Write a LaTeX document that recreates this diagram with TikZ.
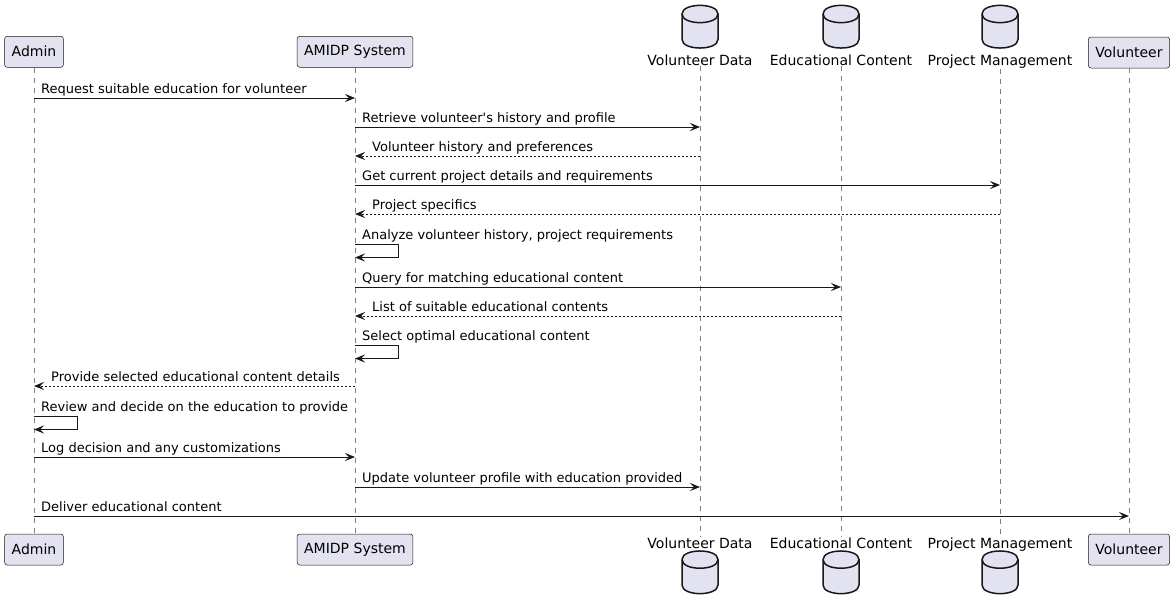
\documentclass[tikz,border=0pt]{standalone}
\usepackage{fontspec}
\setmainfont{DejaVu Sans}
\usepackage{tikz}
\usetikzlibrary{arrows.meta}
\definecolor{partfill}{HTML}{E2E2F0}
\definecolor{partline}{HTML}{181818}
\tikzset{every picture/.append style={x=1pt, y=-1pt}}
\tikzset{
    participant/.style={draw=partline, fill=partfill, rounded corners=2.5pt,
    	line width=0.5pt, inner xsep=7pt, inner ysep=0pt, minimum height=31pt,
    	font=\fontsize{14}{16}\selectfont},
    dblabel/.style={inner sep=0pt, anchor=base, font=\fontsize{14}{16}\selectfont},
    msglabel/.style={inner sep=0pt, anchor=base west, font=\fontsize{13}{15}\selectfont},
    lifeline/.style={draw=partline!55, line width=0.5pt, dash pattern=on 5pt off 5pt},
    msg/.style={draw=partline, line width=1pt,
    	-{Stealth[length=10pt, width=8pt, inset=4pt]}},
    ret/.style={msg, dash pattern=on 2pt off 2pt}
}
% database symbol: #1 = x, #2 = y of the top ellipse centre
\newcommand{\dbicon}[2]{%
	\filldraw[draw=partline, fill=partfill, line width=1.5pt]
		(#1-18,#2) .. controls (#1-18,#2-11.5) and (#1+18,#2-11.5) .. (#1+18,#2)
		-- (#1+18,#2+25.4) .. controls (#1+18,#2+36.9) and (#1-18,#2+36.9) .. (#1-18,#2+25.4) -- cycle;
	\draw[partline, line width=1.5pt]
		(#1-18,#2) .. controls (#1-18,#2+11.5) and (#1+18,#2+11.5) .. (#1+18,#2);
}

\begin{document}
\begin{tikzpicture}
	\useasboundingbox (0,0) rectangle (1173,611);
	\node (admin) [participant] at (34, 51.75) {Admin};
	\node (amidp) [participant] at (355, 51.75) {AMIDP System};
	\node (vdata) [dblabel] at (700, 65.5) {Volunteer Data};
	\node (educ) [dblabel] at (841, 65.5) {Educational Content};
	\node (projm) [dblabel] at (1000, 65.5) {Project Management};
	\node (volun) [participant] at (1129, 52.5) {Volunteer};
	
	\node (admin2) [participant] at (34, 549.5) {Admin};
	\node (amidp2) [participant] at (355, 549.5) {AMIDP System};
	\node (vdata2) [dblabel] at (700, 548) {Volunteer Data};
	\node (educ2) [dblabel] at (841, 548) {Educational Content};
	\node (projm2) [dblabel] at (1000, 548) {Project Management};
	\node (volun2) [participant] at (1129, 549.5) {Volunteer};
	
	\dbicon{700}{14} \dbicon{841}{14} \dbicon{1000}{14}
	\dbicon{700}{559.6} \dbicon{841}{559.6} \dbicon{1000}{559.6}
	
	\draw[lifeline] (admin) -- (admin2); \draw[lifeline] (amidp) -- (amidp2);
	\draw[lifeline] (vdata) -- (vdata2); \draw[lifeline] (educ) -- (educ2);
	\draw[lifeline] (projm) -- (projm2); \draw[lifeline] (volun) -- (volun2);
	
	\draw[msg] (admin |- 0,98) -- (amidp |- 0,98);
	\node (t1) [msglabel] at (41, 93) {Request suitable education for volunteer};
	\draw[msg] (amidp |- 0,127) -- (vdata |- 0,127);
	\node (t2) [msglabel] at (362, 122) {Retrieve volunteer\textquotesingle s history and profile};
	\draw[ret] (vdata |- 0,156) -- (amidp |- 0,156);
	\node (t3) [msglabel] at (372, 151) {Volunteer history and preferences};
	\draw[msg] (amidp |- 0,185) -- (projm |- 0,185);
	\node (t4) [msglabel] at (362, 180) {Get current project details and requirements};
	\draw[ret] (projm |- 0,214) -- (amidp |- 0,214);
	\node (t5) [msglabel] at (372, 209) {Project specifics};
	\draw[msg] (amidp |- 0,244) -- ++(43,0) -- ++(0,13.5) -- (amidp |- 0,257.5);
	\node (t6) [msglabel] at (362, 239) {Analyze volunteer history, project requirements};
	\draw[msg] (amidp |- 0,287) -- (educ |- 0,287);
	\node (t7) [msglabel] at (362, 282) {Query for matching educational content};
	\draw[ret] (educ |- 0,316) -- (amidp |- 0,316);
	\node (t8) [msglabel] at (372, 311) {List of suitable educational contents};
	\draw[msg] (amidp |- 0,345) -- ++(43,0) -- ++(0,13.5) -- (amidp |- 0,358.5);
	\node (t9) [msglabel] at (362, 340) {Select optimal educational content};
	\draw[ret] (amidp |- 0,386) -- (admin |- 0,386);
	\node (t10) [msglabel] at (51, 381) {Provide selected educational content details};
	\draw[msg] (admin |- 0,416) -- ++(43,0) -- ++(0,13.5) -- (admin |- 0,429.5);
	\node (t11) [msglabel] at (41, 411) {Review and decide on the education to provide};
	\draw[msg] (admin |- 0,457) -- (amidp |- 0,457);
	\node (t12) [msglabel] at (41, 452) {Log decision and any customizations};
	\draw[msg] (amidp |- 0,487) -- (vdata |- 0,487);
	\node (t13) [msglabel] at (362, 482) {Update volunteer profile with education provided};
	\draw[msg] (admin |- 0,516) -- (volun |- 0,516);
	\node (t14) [msglabel] at (41, 511) {Deliver educational content};
\end{tikzpicture}
\end{document}
